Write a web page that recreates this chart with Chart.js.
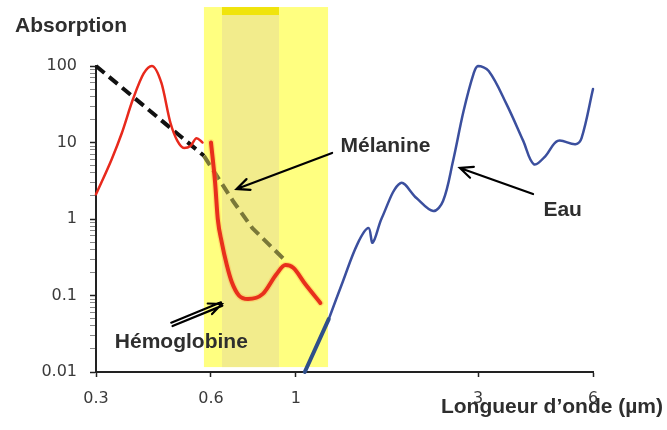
<!DOCTYPE html>
<html>
<head>
<meta charset="utf-8">
<script src="https://cdn.jsdelivr.net/npm/chart.js@4.4.1/dist/chart.umd.min.js"></script>
<style>
  html, body { margin: 0; padding: 0; background: #fff; }
</style>
</head>
<body>
<canvas id="chart" width="667" height="430"></canvas>
<script>
// wavelength (µm) / absorption values
const HEMO_X = [0.30, 0.33, 0.35, 0.375, 0.40, 0.42, 0.445, 0.47, 0.49, 0.51, 0.53, 0.55, 0.57]
const HEMO_Y = [2.1, 6.1, 13, 37, 80, 100, 60, 18, 10.5, 8.5, 9, 11.4, 10]

const HEMO_IR_X = [0.60, 0.615, 0.625, 0.64, 0.66, 0.68, 0.71, 0.75, 0.82, 0.89, 0.94, 0.985, 1.06, 1.16]
const HEMO_IR_Y = [10, 3, 1, 0.5, 0.25, 0.15, 0.1, 0.09, 0.105, 0.19, 0.25, 0.23, 0.14, 0.08]

const MEL_X = [0.3, 0.575]
const MEL_Y = [100, 6.7]
const MEL_IR_X = [0.575, 0.685, 0.77, 0.93]
const MEL_IR_Y = [6.7, 1.72, 0.76, 0.3]

const EAU_IR_X = [1.056, 1.22]
const EAU_IR_Y = [0.01, 0.049]
const EAU_X = [1.22, 1.33, 1.45, 1.55, 1.59, 1.68, 1.88, 2.07, 2.29, 2.43, 2.58, 2.75, 2.92, 3.0, 3.2, 3.56, 3.94, 4.2, 4.5, 4.85, 5.4, 5.6, 6.0]
const EAU_Y = [0.049, 0.155, 0.47, 0.76, 0.49, 1.03, 2.95, 1.88, 1.27, 1.72, 5.7, 25.8, 79, 100, 86, 32, 10.5, 5.2, 6.6, 10.5, 9.5, 11.4, 50]

const X_TICKS  = [0.3, 0.6, 1, 3, 6]
const X_LABELS = ['0.3', '0.6', '1', '3', '6']
const Y_MAJOR  = [0.01, 0.1, 1, 10, 100]
const Y_LABELS = ['0.01', '0.1', '1', '10', '100']

const zip = (xs, ys) => xs.map((x, i) => ({ x, y: ys[i] }))

// minor log ticks between the labelled decades
const Y_TICKS = []
Y_MAJOR.forEach((d, i) => {
  Y_TICKS.push({ value: d, major: true })
  if (i < Y_MAJOR.length - 1) for (let k = 2; k <= 9; k++) Y_TICKS.push({ value: d * k, major: false })
})

// the yellow "therapeutic window" bands, in data units
const BANDS = [
  { x0: 0.575, x1: 1.215, y0: 0.0116, y1: 590, color: 'rgb(255,255,128)' },
  { x0: 0.641, x1: 0.904, y0: 0.0116, y1: 590, color: 'rgb(242,236,140)' },
  { x0: 0.641, x1: 0.904, y0: 464,    y1: 590, color: 'rgb(240,228,12)' },
]

const ARROWS = [
  { from: [1.245, 7.3],  to: [0.70, 2.47],   double: false }, // Mélanine
  { from: [4.18, 2.12],  to: [2.69, 4.64],   double: false }, // Eau
  { from: [0.474, 0.042], to: [0.64, 0.0775], double: true }, // Hémoglobine
]
const LABELS = [
  { text: 'Mélanine',    at: [1.31, 7.5] },
  { text: 'Eau',         at: [4.45, 1.09] },
  { text: 'Hémoglobine', at: [0.336, 0.0205] },
]

const TEXT = '#2e2e2e'
const BOLD = 'bold 21px "Liberation Sans", Arial, sans-serif'

function drawArrow(ctx, x1, y1, x2, y2, double) {
  const a = Math.atan2(y2 - y1, x2 - x1)
  ctx.save()
  ctx.strokeStyle = '#000'
  ctx.lineWidth = 2.2
  ctx.lineCap = 'round'
  ctx.beginPath()
  if (double) {
    const ox = -Math.sin(a) * 1.8, oy = Math.cos(a) * 1.8
    ctx.moveTo(x1 + ox, y1 + oy); ctx.lineTo(x2 + ox, y2 + oy)
    ctx.moveTo(x1 - ox, y1 - oy); ctx.lineTo(x2 - ox, y2 - oy)
  } else {
    ctx.moveTo(x1, y1); ctx.lineTo(x2, y2)
  }
  const L = 14, s = 0.42
  ctx.moveTo(x2 - L * Math.cos(a - s), y2 - L * Math.sin(a - s))
  ctx.lineTo(x2, y2)
  ctx.lineTo(x2 - L * Math.cos(a + s), y2 - L * Math.sin(a + s))
  ctx.stroke()
  ctx.restore()
}

const overlay = {
  id: 'overlay',
  beforeDatasetsDraw(chart) {
    const { ctx, scales: { x, y } } = chart
    ctx.save()
    BANDS.forEach(b => {
      const l = x.getPixelForValue(b.x0), r = x.getPixelForValue(b.x1)
      const t = y.getPixelForValue(b.y1), btm = y.getPixelForValue(b.y0)
      ctx.fillStyle = b.color
      ctx.fillRect(l, t, r - l, btm - t)
    })
    ctx.restore()
  },
  afterDatasetsDraw(chart) {
    const { ctx, scales: { x, y } } = chart
    ARROWS.forEach(a => drawArrow(ctx,
      x.getPixelForValue(a.from[0]), y.getPixelForValue(a.from[1]),
      x.getPixelForValue(a.to[0]), y.getPixelForValue(a.to[1]), a.double))
    ctx.save()
    ctx.font = BOLD
    ctx.fillStyle = TEXT
    ctx.textBaseline = 'alphabetic'
    LABELS.forEach(l => {
      ctx.fillText(l.text, x.getPixelForValue(l.at[0]), y.getPixelForValue(l.at[1]))
    })
    // axis titles
    ctx.textAlign = 'left'
    ctx.fillText('Absorption', 15, 32)
    ctx.textAlign = 'right'
    ctx.fillText('Longueur d’onde (µm)', 663, 413)
    ctx.restore()
  },
}

const line = (data, color, width, order, extra) => Object.assign({
  data, borderColor: color, borderWidth: width, order,
  pointRadius: 0, fill: false, clip: false,
  cubicInterpolationMode: 'monotone', borderCapStyle: 'round', borderJoinStyle: 'round',
}, extra || {})

const smooth = { cubicInterpolationMode: 'default', tension: 0.35 }
const dashed = { borderDash: [11, 6], cubicInterpolationMode: 'default', tension: 0, borderCapStyle: 'butt' }

new Chart(document.getElementById('chart'), {
  type: 'line',
  data: {
    datasets: [
      line(zip(EAU_IR_X, EAU_IR_Y), '#2f4f8a', 4, 0),
      line(zip(EAU_X, EAU_Y), '#3b4f9e', 2.5, 1, smooth),
      line(zip(HEMO_IR_X, HEMO_IR_Y), '#e8301c', 4, 2),
      line(zip(HEMO_IR_X, HEMO_IR_Y), 'rgba(255,170,70,0.35)', 6.5, 3),
      line(zip(HEMO_X, HEMO_Y), '#e8291c', 2.5, 4),
      line(zip(MEL_IR_X, MEL_IR_Y), '#7a7838', 4, 5, dashed),
      line(zip(MEL_X, MEL_Y), '#111', 4, 6, dashed),
    ],
  },
  options: {
    responsive: false,
    animation: false,
    layout: { padding: { top: 66, right: 74, left: 0, bottom: 0 } },
    plugins: { legend: { display: false }, tooltip: { enabled: false } },
    scales: {
      x: {
        type: 'logarithmic', min: 0.3, max: 6,
        afterFit: s => { s.height = 58 },
        afterBuildTicks: s => { s.ticks = X_TICKS.map(v => ({ value: v })) },
        border: { color: '#222', width: 2 },
        grid: { drawOnChartArea: false, tickLength: 5, tickColor: '#222', tickWidth: 1.5 },
        ticks: {
          autoSkip: false, maxRotation: 0, padding: 12,
          color: '#3a3a3a', font: { family: '"DejaVu Sans"', size: 16 },
          callback: (v, i) => X_LABELS[i],
        },
      },
      y: {
        type: 'logarithmic', min: 0.01, max: 100,
        afterFit: s => { s.width = 96 },
        afterBuildTicks: s => { s.ticks = Y_TICKS.map(t => ({ ...t })) },
        border: { color: '#222', width: 2 },
        grid: {
          drawOnChartArea: false, tickLength: 6,
          tickColor: c => (c.tick && c.tick.major) ? '#222' : '#888',
          tickWidth: c => (c.tick && c.tick.major) ? 1.5 : 1,
        },
        ticks: {
          autoSkip: false, padding: 13,
          color: '#3a3a3a', font: { family: '"DejaVu Sans"', size: 16 },
          callback: (v) => {
            const i = Y_MAJOR.findIndex(m => Math.abs(m - v) / m < 1e-6)
            return i >= 0 ? Y_LABELS[i] : ''
          },
        },
      },
    },
  },
  plugins: [overlay],
})
</script>
</body>
</html>
